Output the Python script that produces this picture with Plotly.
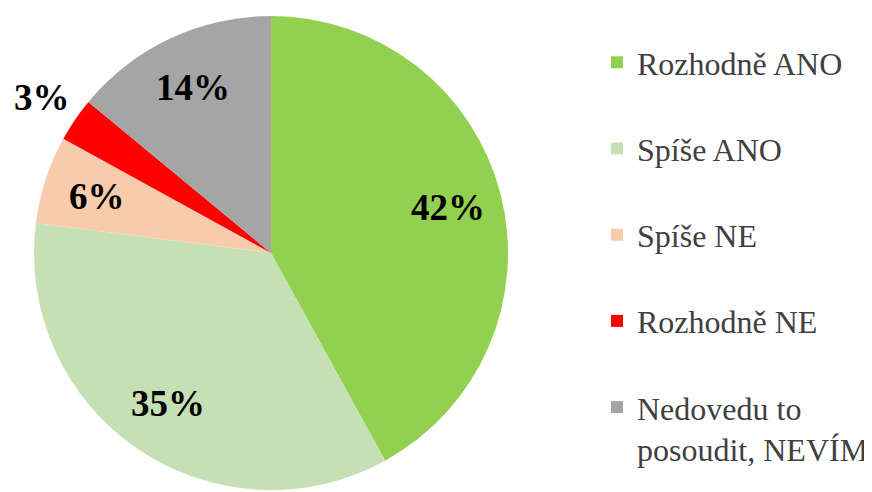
import math
import plotly.graph_objects as go

categories = ["Rozhodně ANO", "Spíše ANO", "Spíše NE", "Rozhodně NE", "Nedovedu to<br>posoudit, NEVÍM"]
values = [42, 35, 6, 3, 14]
colors = ["#92D050", "#C5E0B4", "#F8CBAD", "#FF0000", "#A5A5A5"]

W, H = 872, 492
OFF = 8  # default page body margin in the written html
CX, CY, R = 271 - OFF, 253 - OFF, 237  # pie geometry in figure pixels
SERIF = "Times New Roman, Liberation Serif, serif"

legend_labels = [c if "<br>" in c else c + "<br> " for c in categories]

fig = go.Figure(go.Pie(
    labels=legend_labels,
    values=values,
    sort=False,
    direction="clockwise",
    rotation=0,
    marker=dict(colors=colors, line=dict(width=0)),
    textinfo="none",
    domain=dict(x=[(CX - R) / W, (CX + R) / W], y=[1 - (CY + R) / H, 1 - (CY - R) / H]),
    hoverinfo="label+percent",
))

# percentage labels placed along each slice's bisector
total = sum(values)
cum = 0
annotations = []
for v in values:
    frac = v / total
    mid = (cum + frac / 2) * 2 * math.pi
    cum += frac
    rf = 1.17 if frac < 0.05 else 0.77
    px = CX + rf * R * math.sin(mid)
    py = CY - rf * R * math.cos(mid)
    annotations.append(dict(
        x=px / W, y=1 - py / H, xref="paper", yref="paper",
        text=f"<b>{round(frac * 100)}%</b>", showarrow=False,
        xanchor="center", yanchor="middle",
        font=dict(family=SERIF, size=37, color="black"),
    ))

fig.update_layout(
    width=W, height=H,
    margin=dict(l=0, r=0, t=0, b=0),
    paper_bgcolor="white",
    plot_bgcolor="white",
    font=dict(family=SERIF),
    showlegend=True,
    annotations=annotations,
    legend=dict(
        x=589 / W, xanchor="left",
        y=1 - 27 / H, yanchor="top",
        valign="top",
        font=dict(family=SERIF, size=32, color="#404040"),
        bgcolor="rgba(0,0,0,0)",
    ),
)

fig.write_html("out.html")
